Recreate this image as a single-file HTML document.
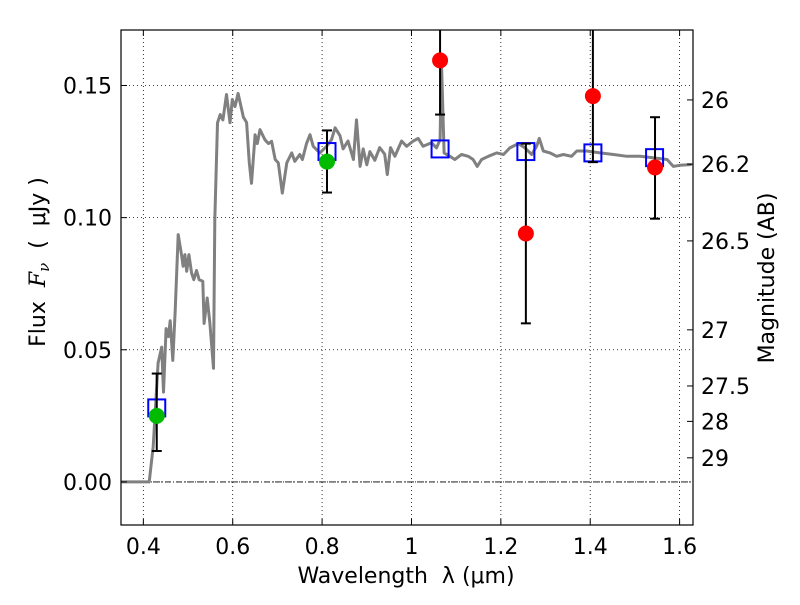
<!DOCTYPE html>
<html><head><meta charset="utf-8">
<style>
body{margin:0;background:#fff;}
svg{font-family:"DejaVu Sans","Liberation Sans",sans-serif;}
</style></head>
<body>
<svg id="chart" width="800" height="600" xmlns="http://www.w3.org/2000/svg">
<rect width="800" height="600" fill="#fff"/>
<g id="grid"></g>
<g id="spec"></g>
<g id="marks"></g>
<rect x="121" y="30" width="572" height="495" fill="none" stroke="#000" stroke-width="1.2"/>
<g id="axes"></g>
<text x="406" y="583" font-size="22" text-anchor="middle" xml:space="preserve">Wavelength  λ (μm)</text>
<text transform="translate(45,262) rotate(-90)" font-size="22" text-anchor="middle" xml:space="preserve">Flux  <tspan font-style="italic" font-family="DejaVu Serif,serif">F<tspan font-size="15" dy="4">ν</tspan></tspan><tspan dy="-4">  (  μJy )</tspan></text>
<text transform="translate(774,278) rotate(-90)" font-size="22" text-anchor="middle">Magnitude (AB)</text>
</svg>
<script>
const specWave=[0.35,0.413,0.422,0.433,0.441,0.445,0.451,0.456,0.460,0.466,0.471,0.478,0.486,0.489,0.493,0.497,0.502,0.508,0.513,0.519,0.525,0.533,0.536,0.543,0.549,0.557,0.560,0.566,0.572,0.578,0.586,0.594,0.599,0.605,0.612,0.624,0.631,0.637,0.642,0.650,0.655,0.661,0.672,0.680,0.687,0.695,0.702,0.711,0.721,0.732,0.739,0.750,0.756,0.765,0.773,0.780,0.795,0.810,0.821,0.829,0.840,0.847,0.858,0.870,0.877,0.885,0.892,0.900,0.907,0.918,0.929,0.940,0.946,0.953,0.963,0.978,0.989,1.004,1.015,1.026,1.045,1.056,1.064,1.067,1.073,1.086,1.097,1.112,1.127,1.138,1.147,1.157,1.172,1.191,1.206,1.220,1.239,1.254,1.269,1.280,1.286,1.295,1.310,1.325,1.340,1.358,1.370,1.392,1.422,1.452,1.482,1.512,1.542,1.572,1.586,1.601,1.627];
const specFlux=[0,0,0.0134,0.045,0.051,0.034,0.058,0.055,0.061,0.046,0.064,0.0936,0.0853,0.0816,0.086,0.0797,0.086,0.079,0.0765,0.080,0.0765,0.0759,0.060,0.0696,0.060,0.043,0.0992,0.1359,0.139,0.137,0.1466,0.1359,0.1447,0.142,0.147,0.138,0.136,0.1207,0.113,0.1314,0.128,0.1333,0.1295,0.128,0.1289,0.122,0.1207,0.1093,0.1207,0.1245,0.1213,0.1239,0.122,0.128,0.1314,0.127,0.1245,0.127,0.1295,0.134,0.131,0.126,0.129,0.122,0.137,0.1194,0.126,0.12,0.125,0.1217,0.1265,0.124,0.1163,0.1265,0.1232,0.129,0.127,0.129,0.130,0.127,0.1283,0.1264,0.1295,0.1598,0.1245,0.1232,0.122,0.1239,0.1232,0.122,0.1194,0.122,0.1232,0.1245,0.1239,0.1264,0.128,0.1264,0.1239,0.127,0.130,0.1252,0.1245,0.1232,0.1239,0.1232,0.1252,0.1252,0.1245,0.1239,0.1232,0.1232,0.1226,0.122,0.1194,0.1198,0.1201];
const modelWave=[0.43,0.811,1.064,1.256,1.406,1.544];
const modelFlux=[0.028,0.125,0.126,0.125,0.1245,0.1227];
const greenWave=[0.43,0.811];
const greenFlux=[0.025,0.1212];
const greenLo=[0.0117,0.1095];
const greenHi=[0.041,0.133];
const redWave=[1.064,1.256,1.406,1.545];
const redFlux=[0.1595,0.094,0.146,0.119];
const redLo=[0.139,0.060,0.121,0.0996];
const redHi=[0.20,0.128,0.20,0.138];
const xTicks=[0.4,0.6,0.8,1.0,1.2,1.4,1.6];
const xTickLabels=["0.4","0.6","0.8","1","1.2","1.4","1.6"];
const yTicks=[0,0.05,0.10,0.15];
const yTickLabels=["0.00","0.05","0.10","0.15"];
const magTicks=[26,26.2,26.5,27,27.5,28,29];
const magTickLabels=["26","26.2","26.5","27","27.5","28","29"];

const NS="http://www.w3.org/2000/svg";
const X0=121,X1=693,Y0=30,Y1=525,XMIN=0.35,XMAX=1.63,YMIN=-0.0163,YMAX=0.171;
function sx(v){return X0+(v-XMIN)/(XMAX-XMIN)*(X1-X0);}
function sy(v){return Y1-(v-YMIN)/(YMAX-YMIN)*(Y1-Y0);}
function mk(tag,attrs,parent){const e=document.createElementNS(NS,tag);for(const k in attrs)e.setAttribute(k,attrs[k]);parent.appendChild(e);return e;}
const grid=document.getElementById('grid'),axes=document.getElementById('axes'),spec=document.getElementById('spec'),marks=document.getElementById('marks');
xTicks.forEach((t,i)=>{
 const x=sx(t);
 const g=mk('line',{x1:x,x2:x,y1:Y0,y2:Y1,stroke:'#000','stroke-width':0.8,'stroke-dasharray':'1,3'},grid);
 
 
 mk('line',{x1:x,x2:x,y1:Y1,y2:Y1-6,stroke:'#000'},axes);
 mk('line',{x1:x,x2:x,y1:Y0,y2:Y0+6,stroke:'#000'},axes);
 const tx=mk('text',{x:x,y:554,'font-size':22,'text-anchor':'middle'},axes);
 tx.textContent=xTickLabels[i];
 
 
});
yTicks.forEach((t,i)=>{
 const y=sy(t);
 const g=mk('line',{x1:X0,x2:X1,y1:y,y2:y,stroke:'#000','stroke-width':0.8,'stroke-dasharray':'1,3'},grid);
 
 
 mk('line',{x1:X0,x2:X0+6,y1:y,y2:y,stroke:'#000'},axes);
 const tx=mk('text',{x:112,y:y+8,'font-size':22,'text-anchor':'end'},axes);
 tx.textContent=yTickLabels[i];
 
 
});
magTicks.forEach((m,i)=>{
 const f=Math.pow(10,(23.9-m)/2.5);
 const y=sy(f);
 mk('line',{x1:X1,x2:X1-6,y1:y,y2:y,stroke:'#000'},axes);
 const tx=mk('text',{x:701,y:y+8,'font-size':22},axes);
 tx.textContent=magTickLabels[i];
 
 
});
const bl=mk('line',{x1:X0,x2:X1,y1:sy(0),y2:sy(0),stroke:'#000','stroke-width':0.8,'stroke-dasharray':'6,2,1,2'},grid);


const pts=specWave.map((w,i)=>sx(w).toFixed(1)+','+sy(specFlux[i]).toFixed(1)).join(' ');
const pl=mk('polyline',{points:pts,fill:'none',stroke:'#808080','stroke-width':3,'stroke-linejoin':'round'},spec);


function errbar(x,lo,hi){
 const yl=sy(lo),yh=Math.max(sy(hi),Y0);
 mk('line',{x1:x,x2:x,y1:yl,y2:yh,stroke:'#000','stroke-width':2},marks);
 mk('line',{x1:x-5,x2:x+5,y1:yl,y2:yl,stroke:'#000','stroke-width':2},marks);
 if(sy(hi)>=Y0) mk('line',{x1:x-5,x2:x+5,y1:yh,y2:yh,stroke:'#000','stroke-width':2},marks);
}
modelWave.forEach((w,i)=>{
 const r=mk('rect',{x:sx(w)-8.5,y:sy(modelFlux[i])-8.5,width:17,height:17,fill:'none',stroke:'#0000ff','stroke-width':2},marks);
 
 
});
greenWave.forEach((w,i)=>{
 errbar(sx(w),greenLo[i],greenHi[i]);
 const c=mk('circle',{cx:sx(w),cy:sy(greenFlux[i]),r:8,fill:'#00bb00'},marks);
 
 
});
redWave.forEach((w,i)=>{
 errbar(sx(w),redLo[i],redHi[i]);
 const c=mk('circle',{cx:sx(w),cy:sy(redFlux[i]),r:8,fill:'#ff0000'},marks);
 
 
});
</script>
</body></html>
